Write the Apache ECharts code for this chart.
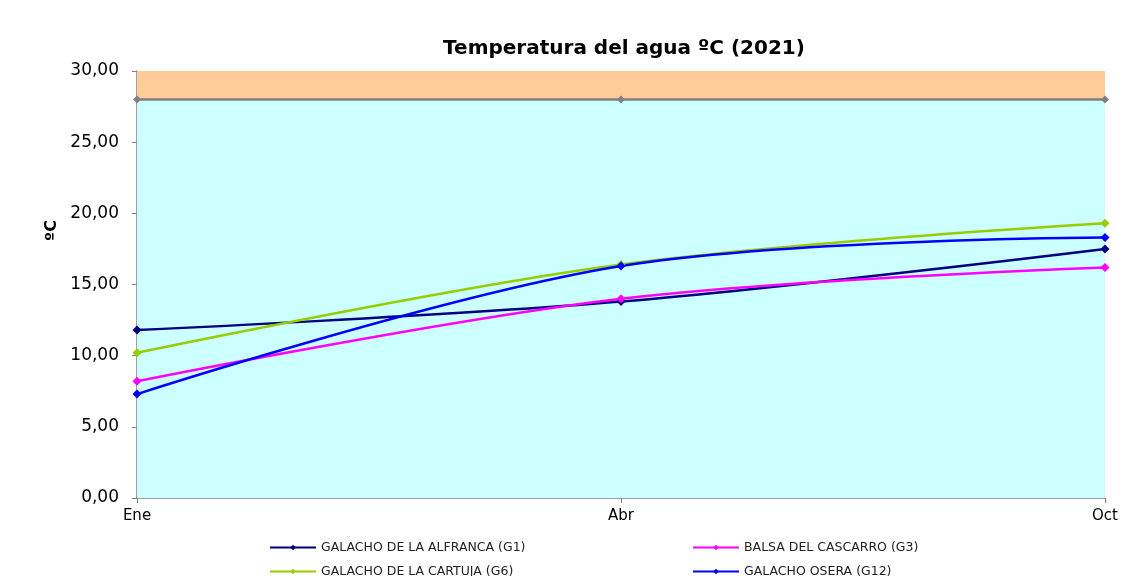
<!DOCTYPE html>
<html><head><meta charset="utf-8">
<script src="https://cdn.jsdelivr.net/npm/echarts@6/dist/echarts.min.js"></script>
<style>html,body{margin:0;padding:0;background:#fff}#c{width:1126px;height:576px}</style>
</head><body><div id="c"></div>
<script>
const categories = ['Ene', 'Abr', 'Oct'];
const g1 = [11.8, 13.8, 17.5];
const g3 = [8.2, 14.0, 16.2];
const g6 = [10.2, 16.4, 19.3];
const g12 = [7.3, 16.3, 18.3];
const limit = [28, 28, 28];
const names = ['GALACHO DE LA ALFRANCA (G1)', 'BALSA DEL CASCARRO (G3)', 'GALACHO DE LA CARTUJA (G6)', 'GALACHO OSERA (G12)'];
const colors = ['#000080', '#FF00FF', '#99CC00', '#0000FF'];
const yTicks = [0, 5, 10, 15, 20, 25, 30];

const chart = echarts.init(document.getElementById('c'));
const font = 'DejaVu Sans, Liberation Sans, Arial, sans-serif';
function lineSeries(name, data, color) {
  return {
    name, type: 'line', data, smooth: 0.35,
    symbol: 'diamond', symbolSize: 9,
    lineStyle: { color, width: 2.5 }, itemStyle: { color },
    z: 5
  };
}
function legendAt(name, left, top) {
  return { data: [name], left, top, itemWidth: 46, itemHeight: 7, padding: 0,
    textStyle: { fontFamily: font, fontSize: 12.5, color: '#222' } };
}
chart.setOption({
  animation: false,
  backgroundColor: '#fff',
  title: {
    text: 'Temperatura del agua ºC (2021)', left: 619, textAlign: 'center', top: 34,
    textStyle: { fontFamily: font, fontSize: 20, fontWeight: 'bold', color: '#000' }
  },
  legend: [
    legendAt(names[0], 269, 541),
    legendAt(names[2], 269, 565),
    legendAt(names[1], 692, 541),
    legendAt(names[3], 692, 565)
  ],
  grid: { left: 137, right: 21, top: 71, bottom: 78 },
  xAxis: {
    type: 'category', data: categories, boundaryGap: false,
    axisLine: { lineStyle: { color: '#808080', width: 1.5 } },
    axisTick: { show: true, lineStyle: { color: '#808080' }, length: 5 },
    axisLabel: { fontFamily: font, fontSize: 15, color: '#000', margin: 11 }
  },
  yAxis: {
    type: 'value', min: 0, max: 30, interval: 5,
    name: 'ºC', nameLocation: 'middle', nameGap: 71, nameRotate: 90,
    nameTextStyle: { fontFamily: font, fontSize: 16, fontWeight: 'bold', color: '#000', padding: [0, 0, 0, 108] },
    axisLine: { show: true, lineStyle: { color: '#808080', width: 1.5 } },
    axisTick: { show: true, lineStyle: { color: '#808080' }, length: 5 },
    splitLine: { show: false },
    axisLabel: { fontFamily: font, fontSize: 17, color: '#000', margin: 18,
      formatter: v => yTicks.includes(v) ? v.toFixed(2).replace('.', ',') : '' }
  },
  series: [
    {
      name: 'limite', type: 'line', data: limit,
      symbol: 'diamond', symbolSize: 8,
      lineStyle: { color: '#808080', width: 2.5 }, itemStyle: { color: '#808080' },
      z: 3,
      markArea: {
        silent: true,
        data: [
          [{ yAxis: 0, itemStyle: { color: '#CCFFFF' } }, { yAxis: 28 }],
          [{ yAxis: 28, itemStyle: { color: '#FFCC99' } }, { yAxis: 30 }]
        ]
      }
    },
    lineSeries(names[0], g1, colors[0]),
    lineSeries(names[1], g3, colors[1]),
    lineSeries(names[2], g6, colors[2]),
    lineSeries(names[3], g12, colors[3])
  ]
});
</script></body></html>
